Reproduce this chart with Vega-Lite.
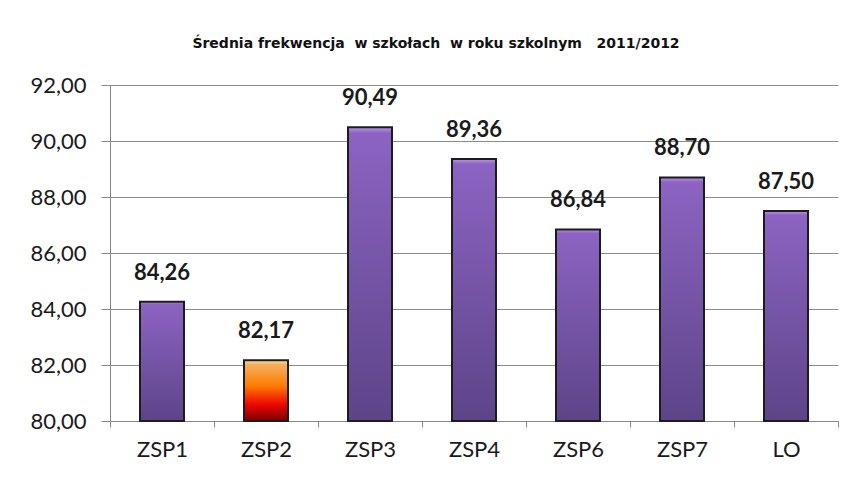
{
  "$schema": "https://vega.github.io/schema/vega-lite/v6.json",
  "width": 728,
  "height": 336,
  "autosize": "none",
  "padding": {"left": 110, "top": 85, "right": 15, "bottom": 60},
  "background": "white",
  "title": {
    "text": "Średnia frekwencja\u00a0\u00a0w szkołach\u00a0\u00a0w roku szkolnym\u00a0\u00a0\u00a02011/2012",
    "font": "DejaVu Sans",
    "fontSize": 14,
    "fontWeight": "bold",
    "color": "#111111",
    "anchor": "middle",
    "dx": -38,
    "offset": 23
  },
  "data": {
    "values": [
      {"school": "ZSP1", "value": 84.26},
      {"school": "ZSP2", "value": 82.17},
      {"school": "ZSP3", "value": 90.49},
      {"school": "ZSP4", "value": 89.36},
      {"school": "ZSP6", "value": 86.84},
      {"school": "ZSP7", "value": 88.70},
      {"school": "LO", "value": 87.50}
    ]
  },
  "encoding": {
    "x": {
      "field": "school",
      "type": "nominal",
      "sort": ["ZSP1", "ZSP2", "ZSP3", "ZSP4", "ZSP6", "ZSP7", "LO"],
      "scale": {"paddingInner": 0, "paddingOuter": 0},
      "axis": {
        "title": null,
        "labelAngle": 0,
        "labelFont": "Lato",
        "labelFontSize": 22,
        "labelColor": "#1a1a1a",
        "labelPadding": 12,
        "tickBand": "extent",
        "tickSize": 6,
        "tickColor": "#888888",
        "domainColor": "#888888",
        "grid": false
      }
    },
    "y": {
      "field": "value",
      "type": "quantitative",
      "scale": {"domain": [80, 92], "nice": false, "zero": false},
      "axis": {
        "title": null,
        "values": [80, 82, 84, 86, 88, 90, 92],
        "format": ".2f",
        "labelFont": "Lato",
        "labelFontSize": 22,
        "labelColor": "#1a1a1a",
        "labelPadding": 15,
        "tickSize": 9,
        "tickColor": "#888888",
        "domainColor": "#888888",
        "grid": true,
        "gridColor": "#8c8c8c",
        "gridWidth": 1
      }
    }
  },
  "layer": [
    {
      "mark": {"type": "bar", "width": 44, "stroke": "#1c1c1c", "strokeWidth": 2},
      "encoding": {
        "y2": {"datum": 80},
        "color": {
          "condition": {
            "test": "datum.school === 'ZSP2'",
            "value": {
              "gradient": "linear", "x1": 0, "y1": 0, "x2": 0, "y2": 1,
              "stops": [
                {"offset": 0, "color": "#fbe6a8"},
                {"offset": 0.07, "color": "#f5b060"},
                {"offset": 0.42, "color": "#ff7c00"},
                {"offset": 0.72, "color": "#ef0800"},
                {"offset": 1, "color": "#7a0000"}
              ]
            }
          },
          "value": {
            "gradient": "linear", "x1": 0, "y1": 0, "x2": 0, "y2": 1,
            "stops": [
              {"offset": 0, "color": "#b894ea"},
              {"offset": 0.02, "color": "#8c63c2"},
              {"offset": 1, "color": "#5d4488"}
            ]
          }
        }
      }
    },
    {
      "mark": {"type": "text", "baseline": "bottom", "dy": -17, "font": "Lato", "fontSize": 22, "fontWeight": "bold", "color": "#1a1a1a"},
      "encoding": {
        "text": {"field": "value", "type": "quantitative", "format": ".2f"}
      }
    }
  ],
  "config": {
    "locale": {"number": {"decimal": ",", "thousands": " ", "grouping": [3], "currency": ["", " zł"]}},
    "view": {"stroke": null}
  }
}
